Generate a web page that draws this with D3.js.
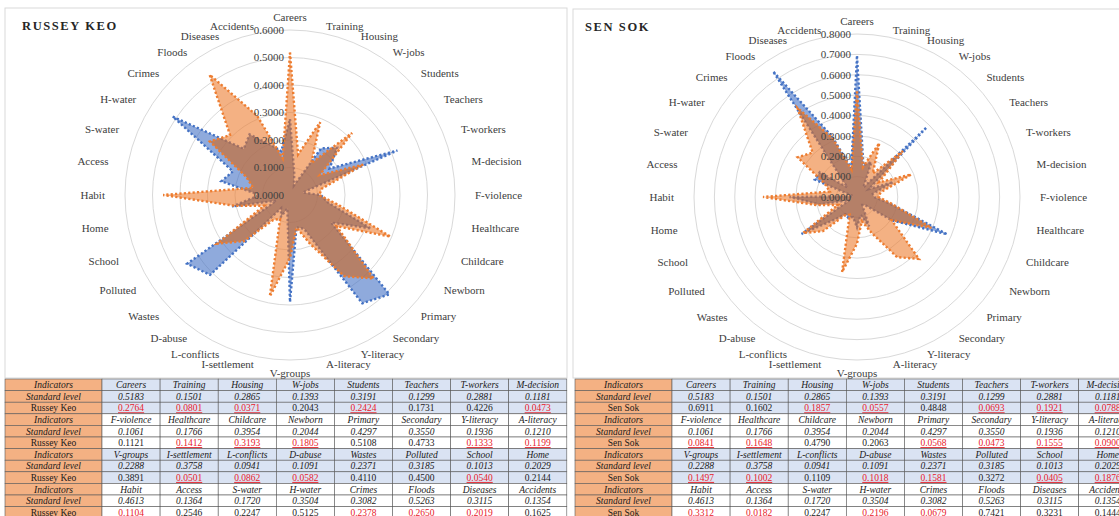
<!DOCTYPE html>
<html><head><meta charset="utf-8">
<script src="https://cdn.jsdelivr.net/npm/d3@7"></script>
<style>body{margin:0;background:#fff;}svg{display:block;}</style>
</head><body>
<script>
const categories = ["Careers","Training","Housing","W-jobs","Students","Teachers","T-workers","M-decision",
 "F-violence","Healthcare","Childcare","Newborn","Primary","Secondary","Y-literacy","A-literacy",
 "V-groups","I-settlement","L-conflicts","D-abuse","Wastes","Polluted","School","Home",
 "Habit","Access","S-water","H-water","Crimes","Floods","Diseases","Accidents"];
const standardLevel = [0.5183,0.1501,0.2865,0.1393,0.3191,0.1299,0.2881,0.1181,
 0.1061,0.1766,0.3954,0.2044,0.4297,0.3550,0.1936,0.1210,
 0.2288,0.3758,0.0941,0.1091,0.2371,0.3185,0.1013,0.2029,
 0.4613,0.1364,0.1720,0.3504,0.3082,0.5263,0.3115,0.1354];
const russeyKeo = [0.2764,0.0801,0.0371,0.2043,0.2424,0.1731,0.4226,0.0473,
 0.1121,0.1412,0.3193,0.1805,0.5108,0.4733,0.1333,0.1199,
 0.3891,0.0501,0.0862,0.0582,0.4110,0.4500,0.0540,0.2144,
 0.1104,0.2546,0.2247,0.5125,0.2378,0.2650,0.2019,0.1625];
const senSok = [0.6911,0.1602,0.1857,0.0557,0.4848,0.0693,0.1921,0.0788,
 0.0841,0.1648,0.4790,0.2063,0.0568,0.0473,0.1555,0.0900,
 0.1497,0.1002,0.1109,0.1018,0.1581,0.3272,0.0405,0.1876,
 0.3312,0.0182,0.2247,0.2196,0.0679,0.7421,0.3231,0.1444];
const ticksRussey = [0,0.1,0.2,0.3,0.4,0.5,0.6];
const ticksSen = [0,0.1,0.2,0.3,0.4,0.5,0.6,0.7,0.8];

const W = 1119, H = 516;
const svg = d3.select("body").append("svg").attr("width", W).attr("height", H);
const defs = svg.append("defs");
const serif = "'Liberation Serif','DejaVu Serif',serif";
const fmt = d3.format(".4f");

const panels = [
  {id:"rk", title:"RUSSEY KEO", loc:"Russey Keo", values:russeyKeo, ticks:ticksRussey,
   box:[5,8,562,370], cx:290, cy:195, R:165, tx:22, ty:30, tableX:5},
  {id:"ss", title:"SEN SOK", loc:"Sen Sok", values:senSok, ticks:ticksSen,
   box:[573,9,560,369], cx:857, cy:197, R:163, tx:585, ty:31, tableX:575}
];

const n = categories.length;
const angle = d3.scaleLinear().domain([0, n]).range([0, 2*Math.PI]);

panels.forEach(p => {
  const g = svg.append("g");
  g.append("rect").attr("x", p.box[0]).attr("y", p.box[1]).attr("width", p.box[2]).attr("height", p.box[3])
    .attr("fill", "#fff").attr("stroke", "#d9d9d9").attr("stroke-width", 1);
  g.append("text").attr("x", p.tx).attr("y", p.ty).text(p.title)
    .attr("font-family", serif).attr("font-weight", "bold").attr("font-size", 12.5)
    .attr("letter-spacing", 1.6).attr("fill", "#262626");

  const maxV = d3.max(p.ticks);
  const r = d3.scaleLinear().domain([0, maxV]).range([0, p.R]);
  const c = g.append("g").attr("transform", `translate(${p.cx},${p.cy})`);

  c.selectAll("circle.grid").data(p.ticks.filter(t => t > 0)).join("circle")
    .attr("class", "grid").attr("r", d => r(d)).attr("fill", "none")
    .attr("stroke", "#d9d9d9").attr("stroke-width", 1);

  const radial = d3.lineRadial().angle((d, i) => angle(i)).radius(d => r(d)).curve(d3.curveLinearClosed);

  defs.append("clipPath").attr("id", "clip-" + p.id)
    .append("path").attr("d", radial(p.values));

  // location series (blue)
  c.append("path").datum(p.values).attr("d", radial)
    .attr("fill", "#4472c4").attr("fill-opacity", 0.6)
    .attr("stroke", "#4472c4").attr("stroke-width", 2.4).attr("stroke-dasharray", "2.2 2.2");
  // standard level (orange)
  c.append("path").datum(standardLevel).attr("d", radial)
    .attr("fill", "#ed7d31").attr("fill-opacity", 0.6)
    .attr("stroke", "none");
  // overlap shading
  c.append("path").datum(standardLevel).attr("d", radial)
    .attr("clip-path", `url(#clip-${p.id})`)
    .attr("fill", "#3a1a10").attr("fill-opacity", 0.12);
  c.append("path").datum(standardLevel).attr("d", radial)
    .attr("fill", "none")
    .attr("stroke", "#ed7d31").attr("stroke-width", 2.4).attr("stroke-dasharray", "2.2 2.2");

  c.selectAll("text.tick").data(p.ticks).join("text")
    .attr("class", "tick").attr("x", -6).attr("y", d => -r(d)).attr("dy", "0.35em")
    .attr("text-anchor", "end").attr("font-family", serif).attr("font-size", 11)
    .attr("fill", "#404040").text(d => fmt(d));

  const rx = p.R + 20, ry = p.R + 7;
  c.selectAll("text.cat").data(categories).join("text")
    .attr("class", "cat")
    .each(function(d, i) {
      const a = angle(i), s = Math.sin(a), co = Math.cos(a);
      const mid = Math.abs(s) < 0.05;
      d3.select(this)
        .attr("x", rx * s)
        .attr("y", -ry * co + (mid ? -6 * Math.sign(co) : 0))
        .attr("dy", "0.35em")
        .attr("text-anchor", mid ? "middle" : (s > 0 ? "start" : "end"));
    })
    .attr("font-family", serif).attr("font-size", 11).attr("fill", "#404040")
    .text(d => d);

  const tx = p.tableX, ty0 = 379, rowH = 11.6, c0 = 97, cw = 58.1;
  const tg = svg.append("g");
  for (let grp = 0; grp < 4; grp++) {
    const cats = categories.slice(grp*8, grp*8+8);
    const std = standardLevel.slice(grp*8, grp*8+8);
    const loc = p.values.slice(grp*8, grp*8+8);
    const rows = [
      {head:"Indicators", cells:cats.map(t => ({t, italic:true}))},
      {head:"Standard level", cells:std.map(v => ({t:fmt(v), italic:true}))},
      {head:p.loc, cells:loc.map((v, k) => ({t:fmt(v), italic:false, low:v < std[k]}))}
    ];
    const bg = grp % 2 === 0 ? "#dae3f3" : "#ffffff";
    rows.forEach((row, ri) => {
      const y = ty0 + (grp*3 + ri) * rowH;
      tg.append("rect").attr("x", tx).attr("y", y).attr("width", c0).attr("height", rowH)
        .attr("fill", "#f4b183").attr("stroke", "#595959").attr("stroke-width", 0.6);
      tg.append("text").attr("x", tx + c0/2).attr("y", y + rowH/2).attr("dy", "0.35em")
        .attr("text-anchor", "middle").attr("font-family", serif).attr("font-size", 9.5)
        .attr("font-style", ri < 2 ? "italic" : "normal").attr("fill", "#1a1a1a").text(row.head);
      row.cells.forEach((cell, k) => {
        const x = tx + c0 + k*cw;
        tg.append("rect").attr("x", x).attr("y", y).attr("width", cw).attr("height", rowH)
          .attr("fill", bg).attr("stroke", "#595959").attr("stroke-width", 0.6);
        tg.append("text").attr("x", x + cw/2).attr("y", y + rowH/2).attr("dy", "0.35em")
          .attr("text-anchor", "middle").attr("font-family", serif).attr("font-size", 9.5)
          .attr("font-style", cell.italic ? "italic" : "normal")
          .attr("text-decoration", cell.low ? "underline" : null)
          .attr("fill", cell.low ? "#e8202a" : "#1a1a1a").text(cell.t);
      });
    });
  }
});
</script>
</body></html>
